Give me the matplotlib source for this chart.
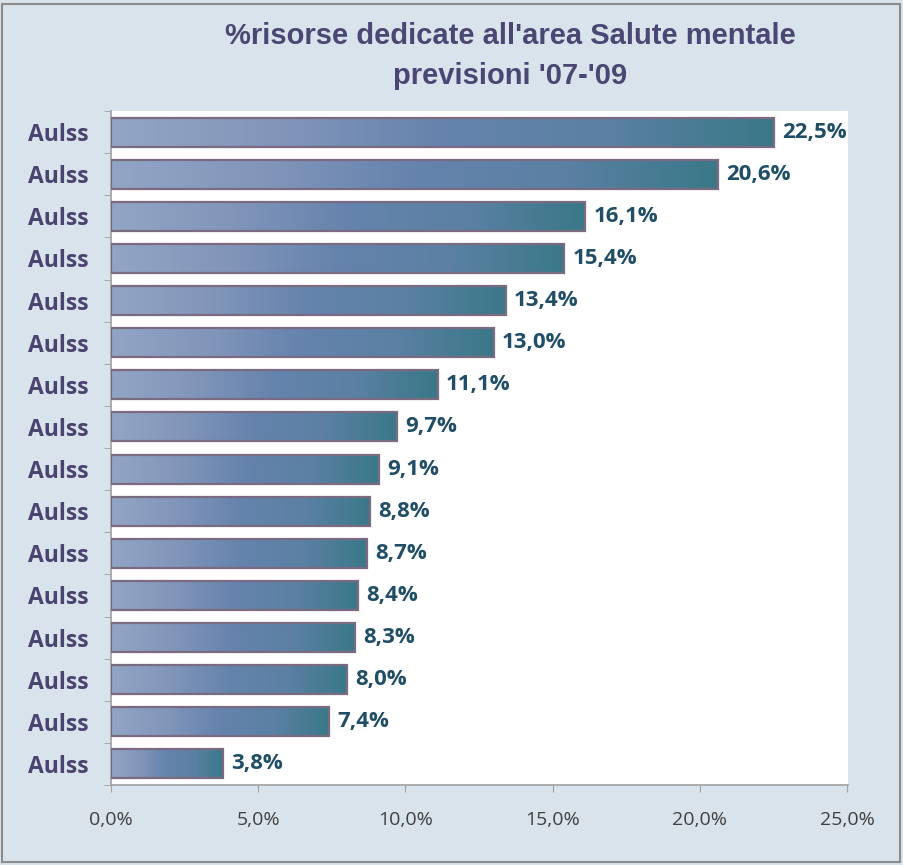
import numpy as np
import matplotlib.pyplot as plt
from matplotlib.colors import LinearSegmentedColormap
from matplotlib.patches import Rectangle

# dati
etichette = ["Aulss"] * 16
valori = [22.5, 20.6, 16.1, 15.4, 13.4, 13.0, 11.1, 9.7, 9.1, 8.8, 8.7, 8.4, 8.3, 8.0, 7.4, 3.8]
testi = ["22,5%", "20,6%", "16,1%", "15,4%", "13,4%", "13,0%", "11,1%", "9,7%",
         "9,1%", "8,8%", "8,7%", "8,4%", "8,3%", "8,0%", "7,4%", "3,8%"]
tick_x = [0, 5, 10, 15, 20, 25]
tick_x_lab = ["0,0%", "5,0%", "10,0%", "15,0%", "20,0%", "25,0%"]

sfondo = "#D9E3EC"
grad = LinearSegmentedColormap.from_list("g", ["#92A5C5", "#8296BA", "#6583AD", "#5B80A3", "#3A7888"])

fig = plt.figure(figsize=(9.04, 8.65), dpi=100, facecolor=sfondo)
fig.patches.append(Rectangle((0.002, 0.003), 0.994, 0.992, transform=fig.transFigure,
                             fill=False, edgecolor="#8C8C8C", lw=1.5))

ax = fig.add_axes([111 / 904, 1 - 785 / 865, (848 - 111) / 904, (785 - 111) / 865])
ax.set_facecolor("white")

y = np.arange(len(valori))
h = 0.69
g = np.linspace(0, 1, 256).reshape(1, -1)
for yi, v in zip(y, valori):
    ax.imshow(g, cmap=grad, aspect="auto", extent=(0, v, yi + h / 2, yi - h / 2),
              zorder=2, interpolation="bilinear")
ax.barh(y, valori, height=h, facecolor="none", edgecolor="#7A6B80", lw=1.6, zorder=3)

for yi, v, t in zip(y, valori, testi):
    ax.text(v + 0.28, yi, t, va="center", ha="left", fontsize=16, fontweight="bold",
            color="#1F4E66", family="Open Sans", zorder=4)

ax.set_xlim(0, 25.03)
ax.set_ylim(len(valori) - 0.5, -0.5)

ax.set_xticks(tick_x)
ax.set_xticklabels(tick_x_lab, fontsize=14, color="#404040", family="Open Sans")
ax.tick_params(axis="x", length=5, color="#A0A0A0", pad=14)

ax.set_yticks(y)
ax.set_yticklabels(etichette, fontsize=16.5, fontweight="bold", color="#4A4470", family="Open Sans")
ax.set_yticks(np.arange(len(valori) + 1) - 0.5, minor=True)
ax.tick_params(axis="y", which="major", length=0, pad=16)
ax.tick_params(axis="y", which="minor", length=5, color="#A0A0A0")

for s in ["top", "right"]:
    ax.spines[s].set_visible(False)
for s in ["left", "bottom"]:
    ax.spines[s].set_color("#A0A0A0")
    ax.spines[s].set_linewidth(1.2)

fig.text(510 / 904, 1 - 36 / 865, "%risorse dedicate all'area Salute mentale",
         ha="center", va="center", fontsize=21, fontweight="bold", color="#4B4774",
         family="Liberation Sans")
fig.text(510 / 904, 1 - 76 / 865, "previsioni '07-'09",
         ha="center", va="center", fontsize=21, fontweight="bold", color="#4B4774",
         family="Liberation Sans")

fig.savefig("out.png", dpi=100, facecolor=sfondo)
